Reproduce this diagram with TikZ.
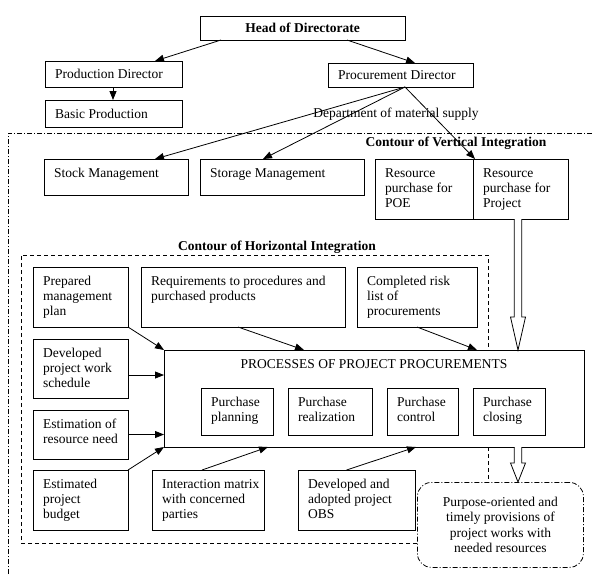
\documentclass[tikz,border=0pt]{standalone}
\usepackage{fontspec}
\setmainfont{Liberation Serif}
\usetikzlibrary{arrows.meta,calc}
\newcommand\fs{\fontsize{13.5pt}{15pt}\selectfont}
\newcommand\mybox[6]{%
  \node[bx, minimum width=#4pt, minimum height=#5pt] (#1) at (#2,#3) {};
  \node[tx] (#1-t) at ([xshift=10pt,yshift=-9pt]#1.north west) {#6};}
\newcommand\hollow[3]{%
  \draw[line width=0.8pt, fill=white] let \p1=(#1), \p2=(#2) in
    (\x1-3.75pt,\y1) -- (\x1-3.75pt,\y2+#3) -- (\x1-7.5pt,\y2+#3) -- (\x1,\y2)
    -- (\x1+7.5pt,\y2+#3) -- (\x1+3.75pt,\y2+#3) -- (\x1+3.75pt,\y1);}
\begin{document}
\begin{tikzpicture}[x=1pt,y=-1pt, font=\fs,
  bx/.style={draw, line width=0.8pt, anchor=north west, inner sep=0pt, outer sep=0pt},
  tx/.style={anchor=north west, inner sep=0pt, align=left},
  arr/.style={line width=0.8pt, -{Triangle[length=9pt,width=7pt]}},
  ttl/.style={font=\fs\bfseries, inner sep=0pt},
  contourH/.style={line width=0.8pt, dash pattern=on 4pt off 3pt},
  contourV/.style={line width=0.8pt, dash pattern=on 5pt off 2pt on 1pt off 2pt},
]
\useasboundingbox (0,0) rectangle (593,574);

% contours
\draw[contourV] (8,574) -- (8,133) -- (593,133);
\draw[contourH] (417,543) -- (21,543) -- (21,255) -- (488,255) -- (488,350);
\draw[contourH] (488,447) -- (488,482);

% top hierarchy
\node[bx, minimum width=205pt, minimum height=24pt, font=\fs\bfseries] (head) at (200,16) {Head of Directorate};
\node[bx, minimum width=137pt, minimum height=26pt] (pd) at (45,61) {};
\node[tx, anchor=west] (pd-t) at ([xshift=10pt]pd.west) {Production Director};
\node[bx, minimum width=137pt, minimum height=27pt] (bp) at (45,100) {};
\node[tx, anchor=west] (bp-t) at ([xshift=10pt]bp.west) {Basic Production};
\node[bx, minimum width=145pt, minimum height=24pt] (pc) at (328,63) {};
\node[tx, anchor=west] (pc-t) at ([xshift=10pt]pc.west) {Procurement Director};

\node[inner sep=0pt] (dept) at (396,114) {Department of material supply};
\node[ttl] (cvi) at (456,143) {Contour of Vertical Integration};
\node[ttl] (chi) at (277,247) {Contour of Horizontal Integration};

\mybox{stock}{44}{159}{144}{36}{Stock Management}
\mybox{sto}{200}{159}{164}{36}{Storage Management}
\mybox{poe}{375}{159}{98}{60}{Resource\\purchase for\\POE}
\mybox{proj}{473}{159}{95}{60}{Resource\\purchase for\\Project}

% horizontal integration inputs
\mybox{pmp}{33}{267}{95}{60}{Prepared\\management\\plan}
\mybox{req}{141}{267}{204}{60}{Requirements to procedures and\\purchased products}
\mybox{crl}{357}{267}{120}{60}{Completed risk\\list of\\procurements}
\mybox{dev}{33}{339}{95}{59}{Developed\\project work\\schedule}
\mybox{est}{33}{410}{95}{49}{Estimation of\\resource need}
\mybox{bud}{33}{470}{95}{60}{Estimated\\project\\budget}
\mybox{imx}{152}{470}{112}{60}{Interaction matrix\\with concerned\\parties}
\mybox{obs}{298}{470}{117}{60}{Developed and\\adopted project\\OBS}

% processes
\node[bx, minimum width=420pt, minimum height=97pt] (proc) at (164,350) {};
\node[inner sep=0pt] (proc-t) at (374,364) {PROCESSES OF PROJECT PROCUREMENTS};
\mybox{pp1}{201}{388}{72}{47}{Purchase\\planning}
\mybox{pp2}{288}{388}{84}{47}{Purchase\\realization}
\mybox{pp3}{387}{388}{71}{47}{Purchase\\control}
\mybox{pp4}{473}{388}{72}{47}{Purchase\\closing}

\node[draw, contourV, rounded corners=14pt, anchor=north west, minimum width=166pt,
  minimum height=85pt, align=center, inner sep=0pt,
  font=\fontsize{13.5pt}{15.4pt}\selectfont] (goal) at (417,482)
  {Purpose-oriented and\\timely provisions of\\project works with\\needed resources};

% arrows top
\draw[arr] ([xshift=21pt]head.south west) -- ([xshift=110pt]pd.north west);
\draw[arr] ([xshift=147pt]head.south west) -- ([xshift=87pt]pc.north west);
\draw[arr] ([xshift=68pt]pd.south west) -- ([xshift=68pt]bp.north west);
\draw[arr] ([xshift=77pt]pc.south west) -- ([xshift=-33pt]stock.north east);
\draw[arr] ([xshift=77pt]pc.south west) -- ([xshift=63pt]sto.north west);
\draw[arr] ([xshift=77pt]pc.south west) -- ([xshift=2pt]proj.north west);

% arrows into processes
\draw[arr] (pmp.south east) -- (proc.north west);
\draw[arr] ([xshift=-5pt]req.south) -- ([xshift=140pt]proc.north west);
\draw[arr] (crl.south) -- ([xshift=313pt]proc.north west);
\draw[arr] ([yshift=-6.5pt]dev.east) -- ([yshift=-6.5pt]dev.east -| proc.west);
\draw[arr] (est.east) -- (est.east -| proc.west);
\draw[arr] (bud.north east) -- (proc.south west);
\draw[arr] ([xshift=-6pt]imx.north) -- ([xshift=104pt]proc.south west);
\draw[arr] ([xshift=-10pt]obs.north) -- ([xshift=252pt]proc.south west);

% hollow arrows
\coordinate (h1s) at ($(proj.south)+(-2.5,0)$);
\coordinate (h1e) at (h1s |- proc.north);
\coordinate (h2s) at (h1s |- proc.south);
\coordinate (h2e) at (h1s |- goal.north);
\hollow{h1s}{h1e}{33pt}
\hollow{h2s}{h2e}{19pt}
\end{tikzpicture}
\end{document}
